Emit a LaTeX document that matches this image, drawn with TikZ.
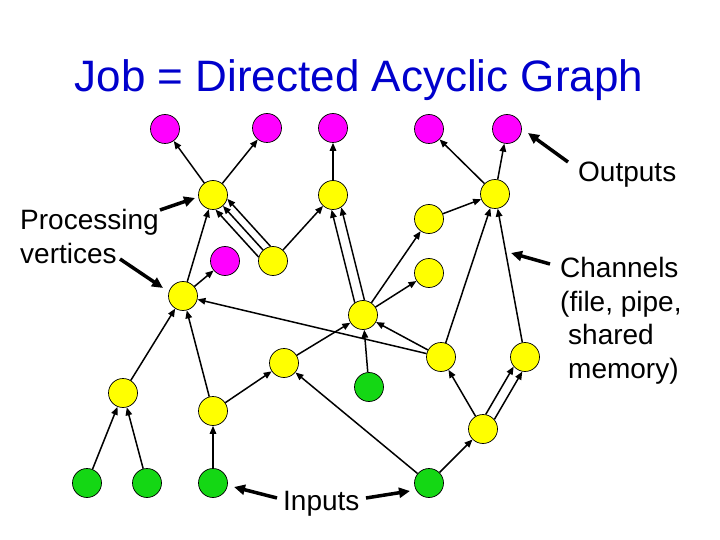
\documentclass[tikz,border=0pt]{standalone}
\usepackage{fontspec}
\setmainfont{Liberation Sans}
\usetikzlibrary{arrows.meta,calc}
\definecolor{titleblue}{RGB}{0,0,204}
\definecolor{vyellow}{RGB}{255,255,0}
\definecolor{vmagenta}{RGB}{255,0,255}
\definecolor{vgreen}{RGB}{20,215,20}
\begin{document}
\begin{tikzpicture}[x=1bp,y=-1bp,
  vtx/.style={circle,draw=black,line width=0.7bp,minimum size=29bp,inner sep=0pt},
  outv/.style={vtx,fill=vmagenta},
  procv/.style={vtx,fill=vyellow},
  inv/.style={vtx,fill=vgreen},
  chan/.style={line width=1.5bp,-{Triangle[length=8bp,width=6.5bp]}},
  offchan/.style={chan,shorten <=#1,shorten >=#1},
  callout/.style={line width=3.5bp,-{Triangle[length=11bp,width=10bp]}},
  lbl/.style={inner sep=0pt,font=\fontsize{28bp}{33.6bp}\selectfont,align=left}
]
\useasboundingbox (0,0) rectangle (720,540);

% title
\node[anchor=base,inner sep=0pt,text=titleblue,font=\fontsize{44bp}{52bp}\selectfont] (title) at (359,92) {Job = Directed Acyclic Graph};

% outputs
\node[outv] (M1) at (165,129) {};
\node[outv] (M2) at (267,128) {};
\node[outv] (M3) at (333,128) {};
\node[outv] (M4) at (429,129) {};
\node[outv] (M5) at (507,129) {};
\node[outv] (M6) at (225,261) {};

% processing vertices
\node[procv] (A) at (213,195) {};
\node[procv] (B) at (333,195) {};
\node[procv] (C) at (273,261) {};
\node[procv] (D) at (183,296) {};
\node[procv] (E) at (495,194) {};
\node[procv] (F) at (429,219) {};
\node[procv] (G) at (429,273) {};
\node[procv] (H) at (363,315) {};
\node[procv] (I) at (441,357) {};
\node[procv] (J) at (284,363) {};
\node[procv] (K) at (213,411) {};
\node[procv] (L) at (123,393) {};
\node[procv] (N) at (525,357) {};
\node[procv] (O) at (483,429) {};

% inputs
\node[inv] (G1) at (369,387) {};
\node[inv] (P1) at (87,483) {};
\node[inv] (P2) at (147,483) {};
\node[inv] (P3) at (213,483) {};
\node[inv] (P4) at (429,483) {};

% channels
\draw[chan] (A) -- (M1);
\draw[chan] (A) -- (M2);
\draw[chan] (C) -- (A);
\draw[offchan=12.5bp] ($(C)!8bp!90:(A)$) -- ($(A)!8bp!-90:(C)$);
\draw[offchan=12.5bp] ($(C)!8bp!-90:(A)$) -- ($(A)!8bp!90:(C)$);
\draw[chan] (C) -- (B);
\draw[chan] (B) -- (M3);
\draw[chan] (D) -- (A);
\draw[chan] (D) -- (M6);
\draw[chan] (E) -- (M4);
\draw[chan] (E) -- (M5);
\draw[chan] (F) -- (E);
\draw[offchan=14bp] ($(H)!5bp!90:(B)$) -- ($(B)!5bp!-90:(H)$);
\draw[offchan=14bp] ($(H)!5bp!-90:(B)$) -- ($(B)!5bp!90:(H)$);
\draw[chan] (H) -- (F);
\draw[chan] (H) -- (G);
\draw[chan] (G1) -- (H);
\draw[chan] (I) -- (H);
\draw[chan] (I) -- (D);
\draw[chan] (J) -- (H);
\draw[chan] (K) -- (J);
\draw[chan] (K) -- (D);
\draw[chan] (P3) -- (K);
\draw[chan] (L) -- (D);
\draw[chan] (P1) -- (L);
\draw[chan] (P2) -- (L);
\draw[chan] (P4) -- (J);
\draw[chan] (P4) -- (O);
\draw[chan] (O) -- (I);
\draw[offchan=14bp] ($(O)!5bp!90:(N)$) -- ($(N)!5bp!-90:(O)$);
\draw[offchan=14bp] ($(O)!5bp!-90:(N)$) -- ($(N)!5bp!90:(O)$);
\draw[chan] (N) -- (E);
\draw[chan] (I) -- (E);

% labels
\node[lbl,anchor=base west] (outl) at (578,182) {Outputs};
\node[lbl,anchor=north west] (procl) at (20,209) {Processing\\vertices};
\node[lbl,anchor=north west] (chanl) at (560,257) {Channels\\(file, pipe,\\\hspace*{8bp}shared\\\hspace*{8bp}memory)};
\node[lbl,anchor=base west] (inl) at (283,510) {Inputs};

% callout arrows
\coordinate (outt) at (568,162);
\coordinate (proct1) at (160,210);
\coordinate (proct2) at (120,259);
\coordinate (chant) at (550,264);
\coordinate (int1) at (277,498);
\coordinate (int2) at (366,498);
\draw[callout] (outt) -- (528,133);
\draw[callout] (proct1) -- (195,198);
\draw[callout] (proct2) -- (163,288);
\draw[callout] (chant) -- (511,253);
\draw[callout] (int1) -- (234,487);
\draw[callout] (int2) -- (410,491);
\end{tikzpicture}
\end{document}
